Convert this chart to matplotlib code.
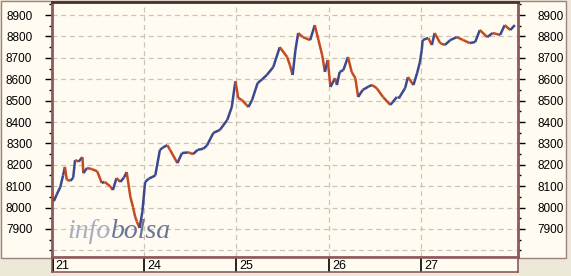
import numpy as np
import matplotlib.pyplot as plt
from matplotlib.patches import Rectangle
from matplotlib.ticker import MultipleLocator

# session labels
day_labels = ["21", "24", "25", "26", "27"]

# intraday readings: position in sessions (0 = start of "21") and index level
t = [0.00, 0.02, 0.05, 0.09, 0.12, 0.14, 0.16, 0.20, 0.23, 0.25, 0.29, 0.33,
     0.34, 0.38, 0.43, 0.49, 0.54, 0.57, 0.63, 0.66, 0.70, 0.74, 0.78, 0.81,
     0.85, 0.88, 0.90, 0.92, 0.95, 0.98,
     1.01, 1.05, 1.12, 1.17, 1.20, 1.25, 1.28, 1.36, 1.41, 1.48, 1.53, 1.58,
     1.64, 1.68, 1.75, 1.82, 1.90, 1.95, 1.98, 1.99,
     2.02, 2.06, 2.13, 2.17, 2.23, 2.28, 2.33, 2.40, 2.47, 2.55, 2.58, 2.61,
     2.64, 2.67, 2.72, 2.80, 2.85, 2.89, 2.93, 2.96, 2.99,
     3.02, 3.07, 3.09, 3.12, 3.16, 3.21, 3.25, 3.29, 3.32, 3.37, 3.43, 3.47,
     3.52, 3.59, 3.67, 3.74, 3.77, 3.83, 3.86, 3.92, 3.96, 3.99,
     4.01, 4.02, 4.08, 4.12, 4.15, 4.21, 4.26, 4.32, 4.39, 4.46, 4.53, 4.59,
     4.64, 4.72, 4.78, 4.86, 4.91, 4.97, 5.02]
level = [8068, 8030, 8060, 8096, 8150, 8190, 8130, 8125, 8140, 8222, 8215, 8236,
         8161, 8185, 8180, 8170, 8115, 8120, 8100, 8082, 8138, 8120, 8140, 8166,
         8050, 8000, 7960, 7935, 7905, 7980,
         8120, 8135, 8150, 8269, 8280, 8292, 8270, 8208, 8255, 8258, 8250, 8270,
         8275, 8290, 8349, 8363, 8409, 8470, 8564, 8590,
         8512, 8503, 8470, 8503, 8582, 8600, 8620, 8657, 8750, 8704, 8666, 8620,
         8736, 8816, 8797, 8783, 8853, 8783, 8713, 8634, 8690,
         8564, 8605, 8573, 8634, 8643, 8704, 8634, 8605, 8517, 8550, 8565, 8573,
         8559, 8517, 8480, 8517, 8517, 8559, 8610, 8573, 8629, 8680,
         8736, 8783, 8793, 8760, 8816, 8769, 8760, 8783, 8797, 8783, 8769, 8774,
         8830, 8797, 8816, 8807, 8853, 8830, 8853]

W, H = 571, 276
cream = "#fffbf0"
brown = "#8c5a5a"
plt.rcParams["font.family"] = ["Liberation Sans", "DejaVu Sans"]


def px(x0, y0, x1, y1):
    # pixel box (top-left origin) -> figure fraction rect
    return [x0 / W, 1 - y1 / H, (x1 - x0) / W, (y1 - y0) / H]


fig = plt.figure(figsize=(W / 100, H / 100), dpi=100, facecolor="#ece9d8")

# cream frame behind the price panel and the axis label columns
fig.patches.append(Rectangle((1 / W, 1 - 258 / H), 565 / W, 257 / H,
                             transform=fig.transFigure, facecolor=cream,
                             edgecolor="#a08080", lw=1.0, zorder=-10))

ax = fig.add_axes(px(52, 2, 518, 257))
ax.set_facecolor(cream)
ax.set_xlim(0, 5.054)
ax.set_ylim(7769, 8961)

ax.yaxis.set_major_locator(MultipleLocator(100))
ax.yaxis.set_minor_locator(MultipleLocator(50))
ax.set_yticks(range(7900, 9000, 100))
ax.set_xticks([])
ax.tick_params(axis="y", which="major", left=True, right=True, labelleft=True,
               labelright=True, length=5.2, width=1.0, color="black",
               labelsize=8.5, pad=9)
ax.tick_params(axis="y", which="minor", left=True, right=True, length=2.5,
               width=1.0, color="black")

for y in range(7800, 9000, 100):
    ax.axhline(y, color="#c8c4b8", lw=0.9, ls=(0, (4, 3)), zorder=1)
for d in range(1, 5):
    ax.axvline(d, color="#c8c4b8", lw=0.9, ls=(0, (4, 3)), zorder=1)

for side in ["left", "right", "bottom"]:
    ax.spines[side].set_color(brown)
    ax.spines[side].set_linewidth(2)
ax.spines["top"].set_color("#4a3030")
ax.spines["top"].set_linewidth(2)

# price trace: rising moves blue, falling moves red
tt = np.array(t)
vv = np.array(level)
for i in range(len(tt) - 1):
    c = "#3c4890" if vv[i + 1] >= vv[i] else "#c44a22"
    ax.plot(tt[i:i + 2], vv[i:i + 2], color=c, lw=1.8, solid_capstyle="butt",
            zorder=3)

# watermark
info = ax.text(0.17, 7858, "info", fontsize=20, style="italic",
               family="Liberation Serif", color="#a8aec4", va="baseline",
               zorder=2)
ax.annotate("bolsa", xy=(1, 0), xycoords=info, fontsize=20, style="italic",
            family="Liberation Serif", color="#6a7498", va="bottom",
            zorder=2)

# session axis band
bx = fig.add_axes(px(52, 258, 518, 272))
bx.set_facecolor(cream)
bx.set_xlim(0, 5.054)
bx.set_ylim(0, 1)
bx.set_xticks([])
bx.set_yticks([])
for s in bx.spines.values():
    s.set_color(brown)
    s.set_linewidth(1.2)
for d, lab in enumerate(day_labels):
    bx.axvline(d, color="black", lw=2 if d == 0 else 1.2)
    bx.text(d + 0.035, 0.45, lab, fontsize=9, va="center", ha="left")

fig.savefig("out.png", dpi=100, facecolor=fig.get_facecolor())
